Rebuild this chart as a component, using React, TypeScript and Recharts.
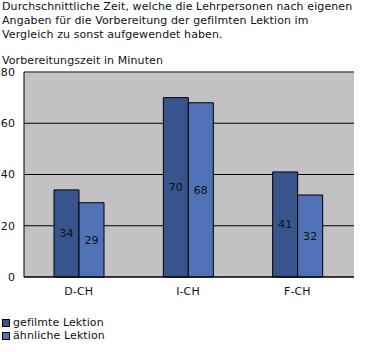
import React from 'react';
import {
  BarChart,
  Bar,
  XAxis,
  YAxis,
  CartesianGrid,
  ReferenceLine,
  LabelList
} from 'recharts';

// Regions (categories)
const regions = ['D-CH', 'I-CH', 'F-CH'];
// Minutes of preparation
const filmedLesson = [34, 70, 41];
const similarLesson = [29, 68, 32];
const yTicks = [0, 20, 40, 60, 80];

const seriesNames = ['gefilmte Lektion', 'ähnliche Lektion'];
const seriesColors = ['#38548c', '#5072b6'];

const titleLines = [
  'Durchschnittliche Zeit, welche die Lehrpersonen nach eigenen',
  'Angaben für die Vorbereitung der gefilmten Lektion im',
  'Vergleich zu sonst aufgewendet haben.'
];
const yAxisTitle = 'Vorbereitungszeit in Minuten';

const data = regions.map((r, i) => ({
  name: r,
  filmed: filmedLesson[i],
  similar: similarLesson[i]
}));

const font = '"DejaVu Sans", Verdana, sans-serif';

export default function App() {
  return (
    <div
      style={{
        position: 'absolute',
        left: 0,
        top: 0,
        width: 366,
        height: 352,
        background: '#fff',
        fontFamily: font,
        fontSize: 11,
        letterSpacing: '0.1px',
        color: '#111'
      }}
    >
      <div style={{ position: 'absolute', left: 2, top: 0, lineHeight: '14px', whiteSpace: 'nowrap' }}>
        {titleLines.map((l) => (
          <div key={l}>{l}</div>
        ))}
      </div>
      <div style={{ position: 'absolute', left: 2, top: 54, lineHeight: '14px', whiteSpace: 'nowrap' }}>
        {yAxisTitle}
      </div>

      <div style={{ position: 'absolute', left: 0, top: 60 }}>
        <BarChart
          width={366}
          height={250}
          data={data}
          margin={{ top: 12, right: 12, left: 0, bottom: 0 }}
          barGap={0}
          barCategoryGap={0}
          barSize={25}
        >
          <CartesianGrid
            vertical={false}
            stroke="#000"
            fill="#c3c1c3"
            fillOpacity={1}
          />
          <XAxis
            dataKey="name"
            height={33}
            padding={{ left: 0, right: 2 }}
            axisLine={{ stroke: '#000' }}
            tickLine={false}
            tickSize={6}
            tickMargin={4}
            tick={{ fill: '#111', fontSize: 11, fontFamily: font }}
          />
          <YAxis
            width={24}
            domain={[0, 80]}
            ticks={yTicks}
            interval={0}
            axisLine={{ stroke: '#000' }}
            tickLine={false}
            tickSize={7}
            tickMargin={2}
            tick={{ fill: '#111', fontSize: 11, fontFamily: font }}
          />
          <YAxis
            yAxisId="frame"
            orientation="right"
            width={0}
            domain={[0, 80]}
            tick={false}
            tickLine={false}
            axisLine={{ stroke: '#808080' }}
          />
          <ReferenceLine y={80} stroke="#808080" />
          <Bar dataKey="filmed" fill={seriesColors[0]} stroke="#000" strokeWidth={1} isAnimationActive={false}>
            <LabelList dataKey="filmed" position="center" fill="#111" fontSize={11} fontFamily={font} />
          </Bar>
          <Bar dataKey="similar" fill={seriesColors[1]} stroke="#000" strokeWidth={1} isAnimationActive={false}>
            <LabelList dataKey="similar" position="center" fill="#111" fontSize={11} fontFamily={font} />
          </Bar>
        </BarChart>
      </div>

      <div style={{ position: 'absolute', left: 2, top: 316, lineHeight: '13px', whiteSpace: 'nowrap' }}>
        {seriesNames.map((n, i) => (
          <div key={n} style={{ display: 'flex', alignItems: 'center' }}>
            <span
              style={{
                display: 'inline-block',
                width: 6,
                height: 6,
                background: seriesColors[i],
                border: '1px solid #000',
                marginRight: 3
              }}
            />
            <span>{n}</span>
          </div>
        ))}
      </div>
    </div>
  );
}
